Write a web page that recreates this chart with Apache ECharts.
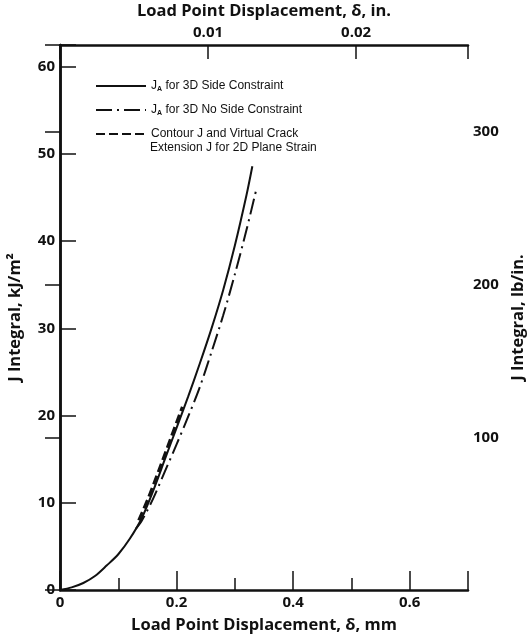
<!DOCTYPE html>
<html>
<head>
<meta charset="utf-8">
<title>J Integral vs Load Point Displacement</title>
<script src="https://cdn.jsdelivr.net/npm/echarts@6/dist/echarts.min.js"></script>
<style>
  html, body { margin: 0; padding: 0; background: #fff; }
  #chart { width: 530px; height: 636px; }
</style>
</head>
<body>
<div id="chart"></div>
<script>
// Load point displacement (mm) and J integral (kJ/m^2) for each analysis
const sideX = [0, 0.02, 0.04, 0.06, 0.08, 0.10, 0.12, 0.14, 0.16, 0.18, 0.20, 0.22, 0.24, 0.26, 0.28, 0.30, 0.32, 0.33];
const sideJ = [0, 0.3, 0.8, 1.6, 2.8, 4.1, 5.9, 8.2, 11.4, 15.0, 18.6, 22.2, 26.0, 30.0, 34.4, 39.5, 45.3, 48.6];

const noSideX = [0.13, 0.14, 0.16, 0.18, 0.20, 0.22, 0.24, 0.26, 0.28, 0.30, 0.32, 0.337];
const noSideJ = [7.0, 7.9, 10.5, 13.6, 16.7, 19.9, 23.3, 27.3, 31.5, 36.2, 41.3, 46.0];

const planeX = [0.135, 0.15, 0.17, 0.19, 0.21];
const planeJ = [8.0, 10.3, 13.8, 17.4, 21.0];

const seriesNames = [
  'JA for 3D Side Constraint',
  'JA for 3D No Side Constraint',
  'Contour J and Virtual Crack'
];
const planeNameLine2 = 'Extension J for 2D Plane Strain';

// Axis ranges and unit conversions
const mmMax = 0.7;
const jMax = 62.5;
const MM_PER_IN = 25.4;
const KJM2_PER_LBIN = 0.175127;

const zip = (xs, ys) => xs.map((x, i) => [x, ys[i]]);
const isMultiple = (v, step) => Math.abs(v / step - Math.round(v / step)) < 1e-6;
const trimNum = (v, d) => String(Number(v.toFixed(d)));

const INK = '#111';
const labelFont = { color: INK, fontFamily: 'Open Sans', fontWeight: 'bold', fontSize: 15 };
const nameFont = { color: INK, fontFamily: 'Open Sans', fontWeight: 'bold', fontSize: 16.5 };
const frameLine = { show: true, lineStyle: { color: INK, width: 2.5 } };

const chart = echarts.init(document.getElementById('chart'), null, { renderer: 'canvas' });

chart.setOption({
  animation: false,
  backgroundColor: '#fff',
  grid: { left: 60, right: 62, top: 45, bottom: 46, containLabel: false, outerBoundsMode: 'none' },
  legend: {
    orient: 'vertical',
    left: 90,
    top: 73,
    itemWidth: 50,
    itemHeight: 14,
    itemGap: 8,
    itemStyle: { opacity: 0 },
    textStyle: {
      color: INK,
      fontFamily: 'Liberation Sans',
      fontSize: 12,
      lineHeight: 16,
      rich: {
        j: { fontFamily: 'Liberation Sans', fontSize: 12, color: INK },
        sub: { fontFamily: 'Liberation Sans', fontSize: 7, fontWeight: 'bold', color: INK, padding: [6, 0, 0, 0] }
      }
    },
    formatter: name => name.startsWith('JA ') ? '{j|J}{sub|A} ' + name.slice(3) : name,
    data: seriesNames
  },
  graphic: [{
    type: 'text',
    left: 150,
    top: 142,
    style: { text: planeNameLine2, fill: INK, font: '12px "Liberation Sans"' }
  }],
  xAxis: [
    {
      // bottom axis, mm: long ticks and labels every 0.2
      type: 'value', position: 'bottom', min: 0, max: mmMax, interval: 0.2,
      name: 'Load Point Displacement, δ, mm', nameLocation: 'middle', nameGap: 27,
      nameTextStyle: nameFont,
      axisLine: frameLine,
      axisTick: { show: true, inside: true, length: 19, lineStyle: { color: INK, width: 1.5 } },
      axisLabel: Object.assign({ margin: 5, formatter: v => isMultiple(v, 0.2) ? trimNum(v, 1) : '' }, labelFont),
      splitLine: { show: false }
    },
    {
      // bottom axis, mm: short ticks every 0.1
      type: 'value', position: 'bottom', min: 0, max: mmMax, interval: 0.1,
      axisLine: { show: false },
      axisTick: { show: true, inside: true, length: 12, lineStyle: { color: INK, width: 1.5 } },
      axisLabel: { show: false },
      splitLine: { show: false }
    },
    {
      // top axis, inches
      type: 'value', position: 'top', min: 0, max: mmMax / MM_PER_IN, interval: 0.01,
      name: 'Load Point Displacement, δ, in.', nameLocation: 'middle', nameGap: 24,
      nameTextStyle: nameFont,
      axisLine: frameLine,
      axisTick: { show: true, inside: true, length: 14, lineStyle: { color: INK, width: 1.5 } },
      axisLabel: Object.assign({ margin: 5, formatter: v => (v > 0 && isMultiple(v, 0.01)) ? trimNum(v, 2) : '' }, labelFont),
      splitLine: { show: false }
    }
  ],
  yAxis: [
    {
      type: 'value', position: 'left', min: 0, max: jMax, interval: 10,
      name: 'J Integral, kJ/m²', nameLocation: 'middle', nameRotate: 90, nameGap: 36,
      nameTextStyle: nameFont,
      axisLine: frameLine,
      axisTick: { show: true, inside: true, length: 16, lineStyle: { color: INK, width: 1.5 } },
      axisLabel: Object.assign({ margin: 5, formatter: v => isMultiple(v, 10) ? String(Math.round(v)) : '' }, labelFont),
      splitLine: { show: false }
    },
    {
      type: 'value', position: 'right', min: 0, max: jMax / KJM2_PER_LBIN, interval: 100,
      name: 'J Integral, lb/in.', nameLocation: 'middle', nameRotate: 90, nameGap: 37,
      nameTextStyle: nameFont,
      axisLine: frameLine,
      axisTick: { show: true, inside: true, length: 15, lineStyle: { color: INK, width: 1.5 } },
      axisLabel: Object.assign({ margin: 5, formatter: v => (v > 0 && isMultiple(v, 100)) ? String(Math.round(v)) : '' }, labelFont),
      splitLine: { show: false }
    }
  ],
  series: [
    {
      name: seriesNames[0], type: 'line', xAxisIndex: 0, yAxisIndex: 0,
      data: zip(sideX, sideJ), smooth: 0.3,
      symbol: 'none', showSymbol: false,
      lineStyle: { color: INK, width: 2, type: 'solid' },
      itemStyle: { color: INK }
    },
    {
      name: seriesNames[1], type: 'line', xAxisIndex: 0, yAxisIndex: 0,
      data: zip(noSideX, noSideJ), smooth: 0.3,
      symbol: 'none', showSymbol: false,
      lineStyle: { color: INK, width: 2, type: [16, 5, 2, 5] },
      itemStyle: { color: INK }
    },
    {
      name: seriesNames[2], type: 'line', xAxisIndex: 0, yAxisIndex: 0,
      data: zip(planeX, planeJ), smooth: 0.3,
      symbol: 'none', showSymbol: false,
      lineStyle: { color: INK, width: 3, type: [9, 4] },
      itemStyle: { color: INK }
    }
  ]
});
</script>
</body>
</html>
